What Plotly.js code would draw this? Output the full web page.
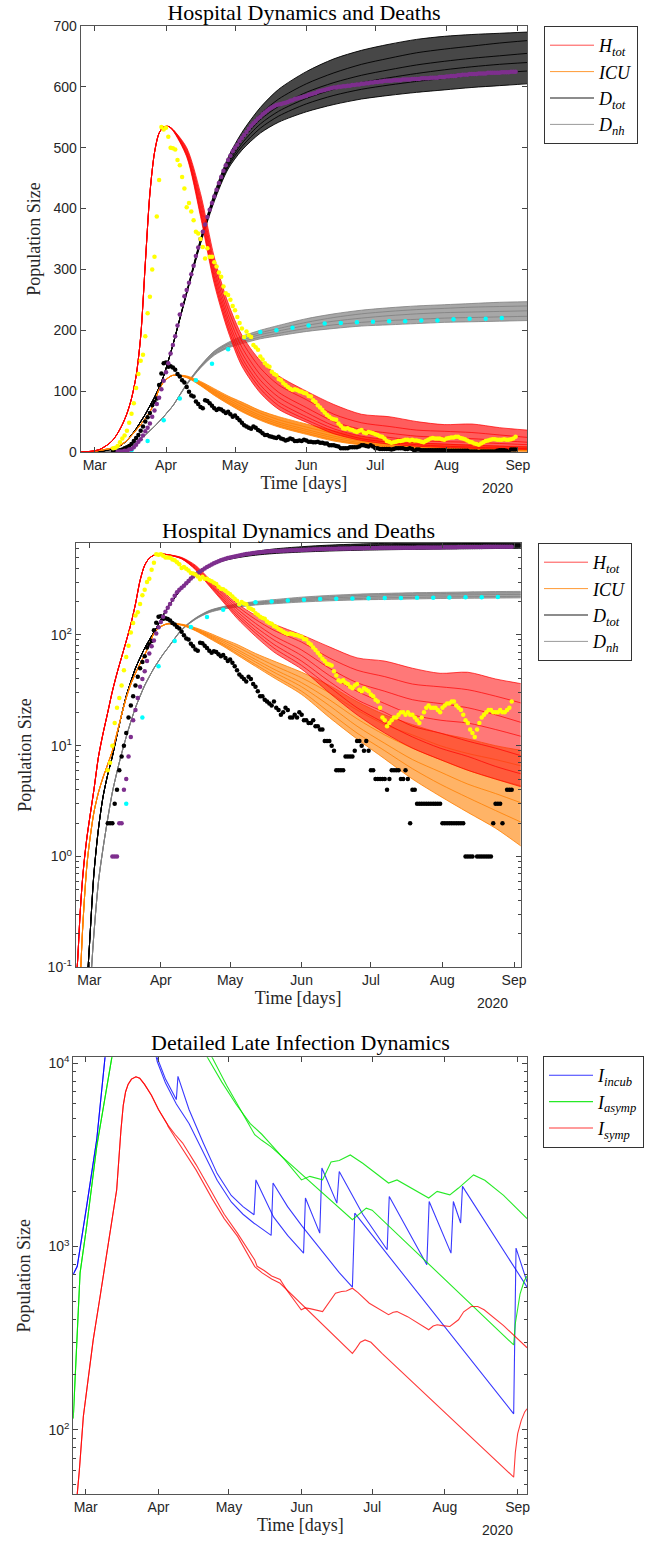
<!DOCTYPE html>
<html>
<head>
<meta charset="utf-8">
<script src="https://cdn.plot.ly/plotly-3.0.1.min.js"></script>
<style>html,body{margin:0;padding:0;background:#fff;}#chart{width:666px;height:1544px;}</style>
</head>
<body>
<div id="chart"></div>
<script>
// ---------------- DATA (days counted from 2020-03-01) ----------------
// model curves, panels 1 & 2 (shared early part, then ensemble members)
const E_DAYS = [-7,-6,-5,-4,-3,-2,-1,0,2,4,6,8,10,12,14,16,18,20,22,24,26,28,30,32];
const L_DAYS = [34,40,46,52,58,64,72,80,92,104,116,128,140,152,164,176,188];

const H_EARLY   = [0.03,0.06,0.12,0.3,0.6,1.0,1.5,2.1,4.0,8.0,13,20,31,45,63,88,125,190,310,425,492,524,534,535];
const ICU_EARLY = [0.005,0.01,0.025,0.07,0.2,0.45,0.85,1.3,2.5,3.8,5.2,6.8,9,13,19,27,36,45,55,66,82,103,115,122];
const DTOT_EARLY= [0.001,0.002,0.005,0.01,0.02,0.04,0.07,0.15,0.7,1.8,3.5,5.5,8,12.5,19,28,38,50,62,76,90,106,125,150];
const DNH_EARLY = [0.001,0.001,0.002,0.004,0.008,0.015,0.03,0.05,0.2,0.6,1.2,2.2,3.8,5.8,8.5,12,16.5,22,28,35,42,50,58,67];

const H_1 = [530,500,425,320,245,192,150,125,100,78,62,58,50,45,46,40,36];
const H_2 = [530,497,417,310,235,182,138,110,86,62,48,42,36,34,32,28,24];
const H_3 = [530,494,410,302,226,172,127,98,73,50,37,31,26,24,22,19,16];
const H_4 = [529,491,403,295,218,163,118,90,65,43,31,24,19,17,16,14,12];
const H_5 = [529,489,397,288,211,155,110,82,58,38,26,20,15,13,11,9.5,8];
const H_6 = [529,487,392,282,204,148,104,76,53,34,22,16,12,9.5,8,6.5,5.5];
const H_7 = [528,485,387,276,198,141,97,70,49,30,19,13,9.5,7.5,6,5,4.2];

const ICU_1 = [126,125,116,104,92,82,68,58,46,35,25,19,15.5,13,11.5,10,9];
const ICU_2 = [126,124,114,101,89,78,64,53,41,30,21,15.5,12.5,10,8.5,7.5,6.5];
const ICU_3 = [126,124,113,99,86,74,60,49,37,26,17.5,12.5,9.5,7.5,6,5,4.3];
const ICU_4 = [126,123,111,97,83,71,57,46,34,23,15,10.5,7.5,5.8,4.5,3.7,3];
const ICU_5 = [126,123,110,95,81,68,54,43,31,20,13,9,6.2,4.5,3.4,2.6,2];
const ICU_6 = [126,122,109,93,79,66,52,41,29,18,11.5,7.6,5,3.5,2.5,1.8,1.2];

const DTOT_1 = [176,264,350,425,484,525,566,596,625,646,660,670,678,683,686,688,690];
const DTOT_2 = [176,263,348,422,479,518,555,580,605,623,637,647,656,662,667,672,676];
const DTOT_3 = [176,262,346,419,475,512,546,568,591,607,619,628,636,642,647,651,655];
const DTOT_4 = [176,262,345,417,472,507,539,560,581,596,607,615,622,628,633,637,640];
const DTOT_5 = [176,261,344,415,469,502,532,552,572,586,596,603,609,614,619,623,626];
const DTOT_6 = [176,260,342,412,465,496,524,542,559,571,580,586,591,595,599,602,605];

const DNH_1 = [76,112,142,166,180,190,200,208,219,227,233,237,240,242,244,246,247];
const DNH_2 = [76,112,141,165,178,187,196,203,213,221,227,231,234,236,238,239,240];
const DNH_3 = [76,111,140,163,176,184,193,199,208,215,220,224,227,229,230,231,232];
const DNH_4 = [76,111,139,161,173,181,189,195,203,209,213,216,218,220,221,222,223];
const DNH_5 = [76,110,138,159,171,178,186,191,198,203,207,209,211,213,214,215,216];

// observed data (daily series start day, values)
const HOSP_START = 8;
const HOSP_VALS = [6,7,10,16,22,27,35,48,63,80,105,128,150,160,190,228,255,300,321,387,447,534,530,533,518,500,499,497,480,471,452,433,402,409,395,381,362,359,350,337,318,335,321,321,312,305,295,288,272,261,258,250,240,233,222,212,203,189,198,192,189,176,172,168,157,152,146,142,140,132,128,126,120,118,113,110,107,104,102,103,102,100,99,97,96,92,91,85,82,77,73,69,65,61,58,55,54,53,47,43,39,38,39,37,36,34,33,35,36,32,31,33,32,31,29,28,26,25,22,18,17,15,16,17,18,18,19,20,20,19,20,19,19,18,17,16,18,20,22,23,22,22,22,21,20,22,23,24,24,25,25,23,22,21,19,17,16,14,13,12,14,16,18,19,20,21,21,20,20,20,21,20,20,21,22,25];
const DEATH_START = 10;
const DEATH_VALS = [1,1,1,2,2,4,5,8,12,17,21,27,34,40,47,58,68,79,89,103,117,131,146,162,176,190,208,226,242,256,266,278,292,306,322,336,350,362,374,386,398,409,420,431,442,452,462,471,480,487,494,500,505,511,516,521,526,531,536,540,544,548,551,555,558,561,564,566,568,570,571,572,573,574,575,577,578,580,581,582,583,584,585,587,588,589,590,592,593,594,595,596,597,598,599,599,600,600,601,601,602,602,603,603,604,604,605,605,606,606,607,607,608,608,609,609,610,610,610,610,611,611,611,611,612,612,612,612,613,613,613,613,614,614,614,614,615,615,615,615,616,616,616,617,617,618,618,618,619,619,620,620,620,621,621,621,621,622,622,622,622,623,623,623,623,623,623,624,624,624,624,625,625,625];
const ICUDATA_START = 8;
const ICUDATA_VALS = [2,2,2,3,4,6,8,10,13,18,23,28,35,42,50,57,64,77,82,88,110,129,146,147,140,141,139,135,128,124,118,114,107,99,93,91,83,79,74,72,85,84,80,76,72,69,71,70,67,64,66,62,58,60,56,52,48,44,42,40,38,42,40,36,34,31,28,28,26,25,24,23,25,22,21,19,20,22,21,18,18,19,18,20,19,17,17,16,16,17,15,15,14,14,11,11,11,10,9,6,6,6,6,8,8,8,8,9,11,11,10,9,11,9,6,6,5,5,5,5,5,4,5,6,6,6,6,5,5,6,5,2,4,4,3,3,3,3,3,3,3,3,3,3,3,2,2,2,2,2,2,2,2,2,2,1,1,1,1,0,1,1,1,1,1,1,1,2,3,3,3,2,0,4,4,4];
const NH_DAYS = [9,16,23,30,37,44,51,58,65,72,79,86,93,100,107,114,121,128,135,142,149,156,163,170,177];
const NH_VALS = [0,3,18,52,88,118,145,169,188,197,200,204,208,211,212,213,214,215,215,216,216,218,219,219,220];

// panel 3 curves
const INCUB_EARLY_DAYS = [-5.3,-3.6,0.4,4.7,8.2,9.5];
const INCUB_EARLY_VALS = [705,780,1655,3830,10700,14000];
const INCUB1_DAYS = [28,30.5,34,38.6,39.3,44,50,56,62,67,71.7,72.5,80,86,92.8,93.6,99.7,100.6,107,108,118,128.4,129.3,145.3,146.3,155.6,156.6,159.7,160.5,188];
const INCUB1_VALS = [14000,10700,8200,6340,8490,5600,3700,2500,1900,1650,1490,2310,1450,1150,920,1840,1183,2680,1725,2570,1500,960,1875,794,1760,920,1760,1343,2130,600];
const INCUB2_DAYS = [28,30.5,34,38.6,44,50,56,62,67,71.7,76,79,79.8,86,92,100,108,113.6,114.6,182.3,183.3,188];
const INCUB2_VALS = [14000,10200,7800,6000,4700,3300,2300,1750,1500,1340,1230,1150,2220,1650,1300,960,720,600,1520,122,980,640];

const ASYMP_EARLY_DAYS = [-5.3,-3.8,-2.4,0.4,4.7,11.1,12.5];
const ASYMP_EARLY_VALS = [115,309,716,1286,3515,10700,14000];
const ASYMP1_DAYS = [46,52,58,64,70,72,75,79,85,91.9,95.5,100.9,104.5,108,112.7,118,124,129,132.6,137,146.1,149.7,155.1,158.8,165.2,170,178,188];
const ASYMP1_VALS = [14000,10700,7900,6000,4700,4450,4100,3600,2950,2310,2415,2310,2890,2950,3160,2850,2500,2220,2310,2150,1840,2000,1915,2085,2460,2300,1900,1420];
const ASYMP2_DAYS = [48,54,60,66,72,75,79,113.6,116,119.5,122,182.3,183,184,185,186.8,188];
const ASYMP2_VALS = [14000,10700,7600,5600,4075,3800,3500,1400,1480,1620,1580,290,380,470,550,650,690];

const SYMP_EARLY_DAYS = [-4.8,-2.7,-1,1,3.2,6,8.9,11,13.2,15,16,17,18.1,19.5,21.4,23,25,28,31,35];
const SYMP_EARLY_VALS = [30,60,118,190,309,520,881,1300,2040,4300,5900,7000,7700,8200,8450,8300,7700,6700,5600,4600];
const SYMP1_DAYS = [35,38,41.3,47,53.9,59,64.7,72,73,76,79.2,82.8,86,91.8,93.5,95.5,100.9,104,106.4,109,111,113.6,116,120.8,129,131,132.6,137.1,146.1,148,149.7,152,155.1,158.8,161,164.2,167,169.7,178,188];
const SYMP1_VALS = [4600,4100,3670,2800,1960,1500,1180,845,780,740,690,660,570,451,462,458,441,500,556,568,572,592,560,490,424,438,441,414,351,368,374,370,366,398,440,470,470,451,370,280];
const SYMP2_DAYS = [35,38,41.3,47,53.9,59,64.7,72,75,79.2,82.8,113.6,115,117,119,121.5,126.2,182.3,183,184,185.5,187,188];
const SYMP2_VALS = [4550,3950,3400,2620,1820,1420,1135,777,720,665,630,261,275,300,309,300,261,55,75,95,112,125,130];

// ---------------- helpers ----------------
const BASE = Date.UTC(2020, 2, 1);
const toDate = d => new Date(BASE + d * 864e5).toISOString().slice(0, 19).replace('T', ' ');
const daily = (start, vals) => vals.map((_, i) => toDate(start + i));

const SERIF = 'Liberation Serif, Times New Roman, serif';
const SANS = 'Liberation Sans, Arial, Helvetica, sans-serif';

const ensembles = [
  {name:'<i>D</i><sub><i>nh</i></sub>', rank:4, early:DNH_EARLY, members:[DNH_1,DNH_2,DNH_3,DNH_4,DNH_5], line:'rgba(128,128,128,0.8)', fill:['rgba(145,145,145,0.8)','rgba(145,145,145,0.8)']},
  {name:'<i>D</i><sub><i>tot</i></sub>', rank:3, early:DTOT_EARLY, members:[DTOT_1,DTOT_2,DTOT_3,DTOT_4,DTOT_5,DTOT_6], line:'rgba(0,0,0,0.9)', fill:['rgba(0,0,0,0.72)','rgba(0,0,0,0.8)']},
  {name:'<i>ICU</i>', rank:2, early:ICU_EARLY, members:[ICU_1,ICU_2,ICU_3,ICU_4,ICU_5,ICU_6], line:'rgba(255,128,0,0.8)', fill:['rgba(255,128,0,0.8)','rgba(255,128,0,0.6)']},
  {name:'<i>H</i><sub><i>tot</i></sub>', rank:1, early:H_EARLY, members:[H_1,H_2,H_3,H_4,H_5,H_6,H_7], line:'rgba(255,0,0,0.7)', fill:['rgba(255,30,30,0.72)','rgba(255,30,30,0.6)']}
];

function panelTraces(xa, ya, legendId, pi) {
  const out = [];
  const xs = E_DAYS.concat(L_DAYS).map(toDate);
  ensembles.forEach(g => {
    const n = g.members.length;
    const order = [n - 1, 0];
    for (let i = 1; i < n - 1; i++) order.push(i);
    order.forEach((idx, k) => {
      out.push({
        type:'scatter', mode:'lines', x: xs, y: g.early.concat(g.members[idx]),
        xaxis: xa, yaxis: ya,
        line:{color:g.line, width:1, shape:'spline', smoothing:0.8},
        fill: k === 1 ? 'tonexty' : 'none', fillcolor: g.fill[pi],
        showlegend: k === 2, name: g.name, legend: legendId, legendrank: g.rank,
        hoverinfo:'skip'
      });
    });
  });
  const dots = (x, y, color) => ({type:'scatter', mode:'markers', x, y, xaxis:xa, yaxis:ya,
    marker:{color, size:4.5, line:{width:0}}, showlegend:false, hoverinfo:'skip'});
  out.push(dots(NH_DAYS.map(toDate), NH_VALS, '#00FFFF'));
  out.push(dots(daily(ICUDATA_START, ICUDATA_VALS), ICUDATA_VALS, '#000000'));
  out.push(dots(daily(DEATH_START, DEATH_VALS), DEATH_VALS, '#7E2F8E'));
  out.push(dots(daily(HOSP_START, HOSP_VALS), HOSP_VALS, '#FFFF00'));
  return out;
}

const traces = [].concat(panelTraces('x', 'y', 'legend', 0), panelTraces('x2', 'y2', 'legend2', 1));

const p3 = [
  {name:'<i>I</i><sub><i>incub</i></sub>', rank:1, color:'rgba(0,0,255,0.78)', ed:INCUB_EARLY_DAYS, ev:INCUB_EARLY_VALS, lines:[[INCUB1_DAYS,INCUB1_VALS],[INCUB2_DAYS,INCUB2_VALS]]},
  {name:'<i>I</i><sub><i>asymp</i></sub>', rank:2, color:'rgba(0,230,0,0.85)', ed:ASYMP_EARLY_DAYS, ev:ASYMP_EARLY_VALS, lines:[[ASYMP1_DAYS,ASYMP1_VALS],[ASYMP2_DAYS,ASYMP2_VALS]]},
  {name:'<i>I</i><sub><i>symp</i></sub>', rank:3, color:'rgba(255,0,0,0.78)', ed:SYMP_EARLY_DAYS, ev:SYMP_EARLY_VALS, lines:[[SYMP1_DAYS,SYMP1_VALS],[SYMP2_DAYS,SYMP2_VALS]]}
];
p3.forEach(g => {
  g.lines.forEach((ln, k) => {
    traces.push({type:'scatter', mode:'lines', x: g.ed.concat(ln[0]).map(toDate), y: g.ev.concat(ln[1]),
      xaxis:'x3', yaxis:'y3', line:{color:g.color, width:1.1},
      showlegend: k === 0, name: g.name, legend:'legend3', legendrank: g.rank, hoverinfo:'skip'});
  });
});

// ---------------- layout ----------------
const W = 666, Hh = 1544;
const px = v => v / W, py = v => 1 - v / Hh;

function xAxis(dom, anchor, r0, r1) {
  return {domain: dom, anchor, type:'date', range:[toDate(r0), toDate(r1)],
    tickmode:'linear', tick0:'2020-03-01', dtick:'M1', tickformat:'%b',
    ticks:'inside', ticklen:5, tickcolor:'#444', mirror:'ticks', showline:true, linecolor:'#555', linewidth:1,
    showgrid:false, zeroline:false, automargin:false,
    tickfont:{family:SANS, size:14, color:'#262626'},
    title:{text:'Time [days]', font:{family:SERIF, size:18, color:'#262626'}, standoff:2}};
}
function yTitle(st) { return {text:'Population Size', font:{family:SERIF, size:18, color:'#262626'}, standoff:st}; }
const yCommon = {ticks:'inside', ticklen:5, tickcolor:'#444', mirror:'ticks', showline:true, linecolor:'#555', linewidth:1,
  showgrid:false, zeroline:false, automargin:false, tickfont:{family:SANS, size:14, color:'#262626'}};
const legCommon = {xanchor:'left', yanchor:'top', bgcolor:'#fff', bordercolor:'#333', borderwidth:1,
  font:{family:SERIF, size:18, color:'#000'}, itemwidth:44, traceorder:'normal', tracegroupgap:0};

const layout = {
  width: W, height: Hh, margin:{l:0, r:0, t:0, b:0},
  paper_bgcolor:'#fff', plot_bgcolor:'#fff', showlegend:true,
  font:{family:SANS, size:14, color:'#262626'},
  title:{text:'Hospital Dynamics and Deaths', x:px(304), y:py(12), xanchor:'center', yanchor:'middle', xref:'paper', yref:'paper',
    font:{family:SERIF, size:22, color:'#000'}},
  xaxis: xAxis([px(80.7), px(527)], 'y', -6.09, 187.96),
  yaxis: Object.assign({}, yCommon, {domain:[py(452), py(26)], anchor:'x', range:[0,700], dtick:100, tick0:0, title:yTitle(8)}),
  xaxis2: xAxis([px(75.7), px(520.7)], 'y2', -5.89, 186.9),
  yaxis2: Object.assign({}, yCommon, {domain:[py(967.3), py(542.7)], anchor:'x2', type:'log', range:[-1, 2.832],
    tickmode:'array', tickvals:[0.1,1,10,100], ticktext:['10<sup>-1</sup>','10<sup>0</sup>','10<sup>1</sup>','10<sup>2</sup>'],
    minor:{ticks:'inside', ticklen:3, tickcolor:'#444', dtick:'D1', showgrid:false}, title:yTitle(11)}),
  xaxis3: xAxis([px(73.3), px(527.3)], 'y3', -5.28, 188.1),
  yaxis3: Object.assign({}, yCommon, {domain:[py(1494.3), py(1057.3)], anchor:'x3', type:'log', range:[1.647, 4.033],
    tickmode:'array', tickvals:[100,1000,10000], ticktext:['10<sup>2</sup>','10<sup>3</sup>','10<sup>4</sup>'],
    minor:{ticks:'inside', ticklen:3, tickcolor:'#444', dtick:'D1', showgrid:false}, title:yTitle(13)}),
  legend: Object.assign({}, legCommon, {x:px(544), y:py(26)}),
  legend2: Object.assign({}, legCommon, {x:px(538), y:py(543)}),
  legend3: Object.assign({}, legCommon, {x:px(543), y:py(1056)}),
  annotations: [
    {text:'Hospital Dynamics and Deaths', x:px(298), y:py(530), xref:'paper', yref:'paper', showarrow:false, xanchor:'center', yanchor:'middle', font:{family:SERIF, size:22, color:'#000'}},
    {text:'Detailed Late Infection Dynamics', x:px(300), y:py(1042), xref:'paper', yref:'paper', showarrow:false, xanchor:'center', yanchor:'middle', font:{family:SERIF, size:22, color:'#000'}},
    {text:'2020', x:px(497), y:py(488), xref:'paper', yref:'paper', showarrow:false, xanchor:'center', yanchor:'middle', font:{family:SANS, size:14, color:'#262626'}},
    {text:'2020', x:px(492), y:py(1003), xref:'paper', yref:'paper', showarrow:false, xanchor:'center', yanchor:'middle', font:{family:SANS, size:14, color:'#262626'}},
    {text:'2020', x:px(497), y:py(1530), xref:'paper', yref:'paper', showarrow:false, xanchor:'center', yanchor:'middle', font:{family:SANS, size:14, color:'#262626'}}
  ]
};

Plotly.newPlot('chart', traces, layout, {staticPlot:true, displayModeBar:false});
</script>
</body>
</html>
